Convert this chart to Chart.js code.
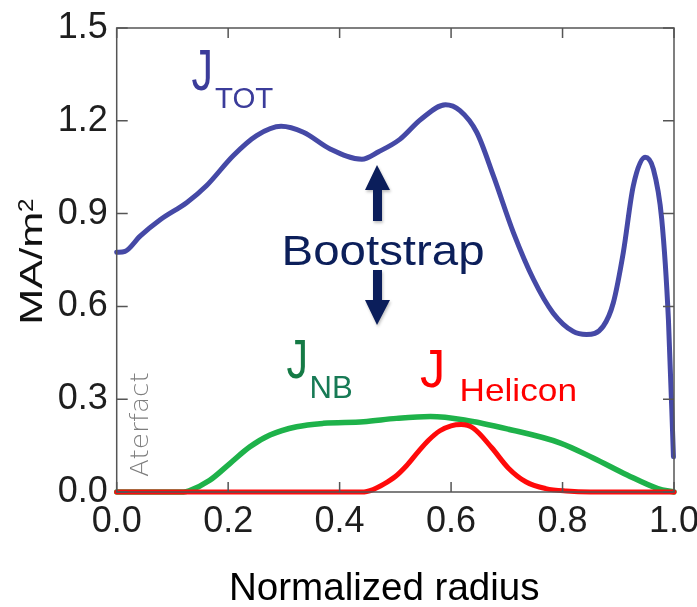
<!DOCTYPE html>
<html>
<head>
<meta charset="utf-8">
<script src="https://cdn.jsdelivr.net/npm/chart.js@4.4.1/dist/chart.umd.min.js"></script>
<style>
  html, body { margin: 0; padding: 0; background: #ffffff; }
  #wrap { width: 697px; height: 607px; }
</style>
</head>
<body>
<div id="wrap"><canvas id="c" width="697" height="607"></canvas></div>
<script>
// ---- Data ----
const totR = [0.000, 0.015, 0.042, 0.078, 0.126, 0.161, 0.209, 0.251, 0.295, 0.335, 0.383, 0.440, 0.470, 0.508, 0.546, 0.590, 0.616, 0.646, 0.676, 0.712, 0.748, 0.783, 0.819, 0.843, 0.873, 0.891, 0.909, 0.927, 0.948, 0.963, 0.978, 0.990, 0.999];
const totJ = [0.775, 0.778, 0.827, 0.880, 0.936, 0.990, 1.087, 1.152, 1.182, 1.163, 1.109, 1.076, 1.100, 1.140, 1.205, 1.252, 1.233, 1.163, 1.022, 0.838, 0.687, 0.579, 0.519, 0.509, 0.536, 0.611, 0.774, 0.990, 1.082, 1.044, 0.882, 0.557, 0.114];

const nbR = [0.000, 0.120, 0.130, 0.167, 0.203, 0.239, 0.275, 0.323, 0.371, 0.443, 0.502, 0.563, 0.624, 0.703, 0.795, 0.855, 0.916, 0.971, 1.000];
const nbJ = [0.000, 0.000, 0.004, 0.038, 0.092, 0.146, 0.184, 0.211, 0.222, 0.227, 0.238, 0.244, 0.233, 0.203, 0.159, 0.110, 0.055, 0.011, 0.000];

const helR = [0.000, 0.440, 0.460, 0.480, 0.500, 0.520, 0.540, 0.560, 0.580, 0.600, 0.618, 0.640, 0.673, 0.703, 0.734, 0.770, 0.807, 0.850, 1.000];
const helJ = [0.000, 0.000, 0.008, 0.026, 0.050, 0.085, 0.128, 0.168, 0.198, 0.214, 0.218, 0.206, 0.143, 0.077, 0.033, 0.011, 0.003, 0.000, 0.000];

const xTicks = [0.0, 0.2, 0.4, 0.6, 0.8, 1.0];
const yTicks = [0.0, 0.3, 0.6, 0.9, 1.2, 1.5];

const toPts = (xs, ys) => xs.map((x, i) => ({ x: x, y: ys[i] }));

// ---- helpers for annotation text ----
function fitText(ctx, text, font, color, left, baseline, width) {
  ctx.save();
  ctx.font = font;
  ctx.fillStyle = color;
  ctx.textAlign = 'left';
  ctx.textBaseline = 'alphabetic';
  const m = ctx.measureText(text);
  const ink = m.actualBoundingBoxLeft + m.actualBoundingBoxRight;
  const sx = width / ink;
  ctx.translate(left, baseline);
  ctx.scale(sx, 1);
  ctx.fillText(text, m.actualBoundingBoxLeft, 0);
  ctx.restore();
}

const decor = {
  id: 'decor',
  afterDatasetsDraw(chart) {
    const ctx = chart.ctx;
    const xs = chart.scales.x, ys = chart.scales.y;
    const L = xs.getPixelForValue(0), R = xs.getPixelForValue(1);
    const T = ys.getPixelForValue(1.5), B = ys.getPixelForValue(0);

    ctx.save();
    ctx.strokeStyle = '#555555';
    ctx.lineWidth = 1.5;
    ctx.strokeRect(L, T, R - L, B - T);
    ctx.beginPath();
    xTicks.forEach(v => {
      const px = xs.getPixelForValue(v);
      ctx.moveTo(px, B); ctx.lineTo(px, B - 10);
      ctx.moveTo(px, T); ctx.lineTo(px, T + 10);
    });
    yTicks.forEach(v => {
      const py = ys.getPixelForValue(v);
      ctx.moveTo(L, py); ctx.lineTo(L + 11, py);
      ctx.moveTo(R, py); ctx.lineTo(R - 11, py);
    });
    ctx.stroke();
    ctx.restore();
  },
  afterDraw(chart) {
    const ctx = chart.ctx;
    const SANS = "'Liberation Sans', Arial, sans-serif";

    // J_TOT
    fitText(ctx, 'J', '58px ' + SANS, '#3b3c9a', 191.5, 90, 18.5);
    fitText(ctx, 'TOT', '30px ' + SANS, '#3b3c9a', 215, 108.3, 58);

    // Bootstrap + arrows
    fitText(ctx, 'Bootstrap', '42px ' + SANS, '#0c1f5a', 285, 265, 198);
    ctx.save();
    ctx.fillStyle = '#0b1e5b';
    ctx.shadowColor = 'rgba(0,0,0,0.25)';
    ctx.shadowBlur = 3;
    ctx.shadowOffsetX = 1;
    ctx.shadowOffsetY = 2;
    ctx.beginPath();
    ctx.moveTo(377, 165);
    ctx.lineTo(390, 190);
    ctx.lineTo(382, 190);
    ctx.lineTo(382, 221);
    ctx.lineTo(373, 221);
    ctx.lineTo(373, 190);
    ctx.lineTo(365, 190);
    ctx.closePath();
    ctx.fill();
    ctx.beginPath();
    ctx.moveTo(373, 270);
    ctx.lineTo(382, 270);
    ctx.lineTo(382, 300);
    ctx.lineTo(390, 300);
    ctx.lineTo(377, 325);
    ctx.lineTo(365, 300);
    ctx.lineTo(373, 300);
    ctx.closePath();
    ctx.fill();
    ctx.restore();

    // J_NB
    fitText(ctx, 'J', '56px ' + SANS, '#157a45', 286.5, 378, 18.5);
    fitText(ctx, 'NB', '32px ' + SANS, '#177a55', 311.5, 398.3, 40);

    // J Helicon
    fitText(ctx, 'J', '54px ' + SANS, '#ff0000', 420, 386.7, 21.5);
    fitText(ctx, 'Helicon', '32px ' + SANS, '#ff0000', 461.7, 400.5, 113.3);

    // Aterfact (rotated)
    ctx.save();
    ctx.translate(147.5, 477);
    ctx.rotate(-Math.PI / 2);
    fitText(ctx, 'Aterfact', "300 25px 'DejaVu Sans', sans-serif", '#7d7d7d', 0, 0, 104);
    ctx.restore();

    // Y axis title MA/m²
    ctx.save();
    ctx.translate(41.5, 322);
    ctx.rotate(-Math.PI / 2);
    fitText(ctx, 'MA/m', '32px ' + SANS, '#111111', 0, 0, 108);
    fitText(ctx, '2', '22px ' + SANS, '#111111', 111, -9, 12);
    ctx.restore();

    // X axis title
    fitText(ctx, 'Normalized radius', '39px ' + SANS, '#000000', 232, 600, 307);
  }
};

const chart = new Chart(document.getElementById('c'), {
  type: 'line',
  data: {
    datasets: [
      { label: 'J_TOT', data: toPts(totR, totJ), borderColor: '#4549a6', borderWidth: 5, order: 0 },
      { label: 'J_Helicon', data: toPts(helR, helJ), borderColor: '#ff0a0a', borderWidth: 5, order: 1 },
      { label: 'J_NB', data: toPts(nbR, nbJ), borderColor: '#1eb24a', borderWidth: 5.5, order: 2 }
    ]
  },
  options: {
    responsive: false,
    animation: false,
    devicePixelRatio: 1,
    layout: { padding: { left: 0, right: 23, top: 28, bottom: 0 } },
    elements: {
      point: { radius: 0, hoverRadius: 0 },
      line: { cubicInterpolationMode: 'monotone', fill: false, borderJoinStyle: 'round', borderCapStyle: 'round' }
    },
    datasets: { line: { clip: 8 } },
    plugins: {
      legend: { display: false },
      tooltip: { enabled: false },
      title: { display: false }
    },
    scales: {
      x: {
        type: 'linear',
        min: 0, max: 1,
        grid: { display: false, drawTicks: false },
        border: { display: false },
        afterBuildTicks(scale) { scale.ticks = xTicks.map(v => ({ value: v })); },
        ticks: {
          padding: 8,
          maxRotation: 0,
          autoSkip: false,
          color: '#1e1e1e',
          font: { family: "'Liberation Sans', Arial, sans-serif", size: 36 },
          callback: v => Number(v).toFixed(1)
        },
        afterFit(scale) { scale.height = 115; scale.paddingLeft = 0; scale.paddingRight = 0; }
      },
      y: {
        type: 'linear',
        min: 0, max: 1.5,
        grid: { display: false, drawTicks: false },
        border: { display: false },
        afterBuildTicks(scale) { scale.ticks = yTicks.map(v => ({ value: v })); },
        ticks: {
          padding: 9,
          autoSkip: false,
          color: '#1e1e1e',
          font: { family: "'Liberation Sans', Arial, sans-serif", size: 36 },
          callback: v => Number(v).toFixed(1)
        },
        afterFit(scale) { scale.width = 116.7; scale.paddingTop = 0; scale.paddingBottom = 0; }
      }
    }
  },
  plugins: [decor]
});
</script>
</body>
</html>
